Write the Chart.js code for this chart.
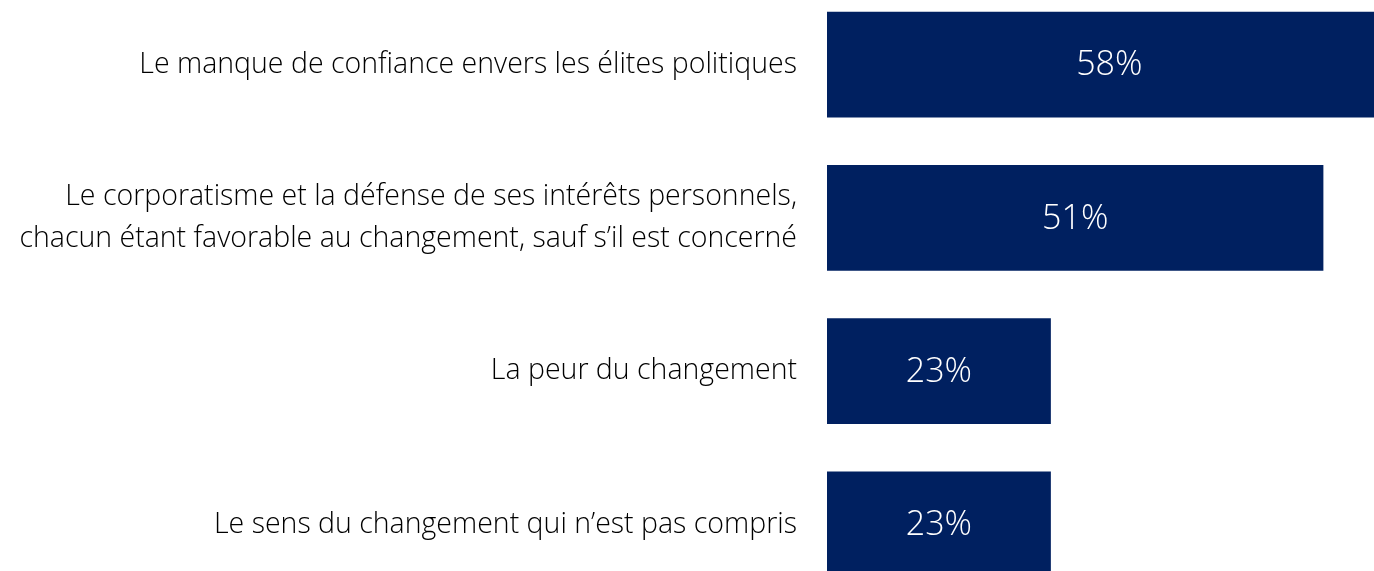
<!DOCTYPE html>
<html>
<head>
<meta charset="utf-8">
<script src="https://cdn.jsdelivr.net/npm/chart.js@4"></script>
<style>
  html, body { margin: 0; padding: 0; background: #fff; overflow: hidden; }
  #wrap { position: absolute; left: 0; top: -12px; width: 1374px; height: 613px; }
</style>
</head>
<body>
<div id="wrap"><canvas id="myChart"></canvas></div>
<script>
const categories = [
    'Le manque de confiance envers les élites politiques',
    ['Le corporatisme et la défense de ses intérêts personnels,', 'chacun étant favorable au changement, sauf s\u2019il est concerné'],
    'La peur du changement',
    'Le sens du changement qui n\u2019est pas compris'
];
const values = [58, 51, 23, 23];

// white percentage in the middle of each bar
const barLabels = {
    id: 'barLabels',
    afterDatasetsDraw(chart) {
        const ctx = chart.ctx;
        ctx.save();
        ctx.fillStyle = '#ffffff';
        ctx.font = '300 34px "Open Sans"';
        ctx.textAlign = 'center';
        ctx.textBaseline = 'middle';
        chart.getDatasetMeta(0).data.forEach((bar, i) => {
            ctx.fillText(values[i] + '%', (bar.x + bar.base) / 2, bar.y + 1);
        });
        ctx.restore();
    }
};

const data = {
    labels: categories,
    datasets: [{
        data: values,
        backgroundColor: '#002060',
        borderWidth: 0,
        barPercentage: 0.69,
        categoryPercentage: 1
    }]
};

const config = {
    type: 'bar',
    data,
    options: {
        indexAxis: 'y',
        responsive: true,
        maintainAspectRatio: false,
        animation: false,
        layout: { padding: 0 },
        plugins: {
            legend: { display: false },
            tooltip: { enabled: false }
        },
        scales: {
            x: {
                display: false,
                min: 0,
                max: 56.2
            },
            y: {
                grid: { display: false, drawTicks: false },
                border: { display: false },
                afterFit: scale => {
                    scale.width = 827;
                    scale.paddingTop = 0;
                    scale.paddingBottom = 0;
                },
                ticks: {
                    color: '#000000',
                    padding: 30,
                    font: { family: 'Open Sans', size: 28.5, weight: '300', lineHeight: 1.5 }
                }
            }
        }
    },
    plugins: [barLabels]
};

const myChart = new Chart(document.getElementById('myChart'), config);
</script>
</body>
</html>
